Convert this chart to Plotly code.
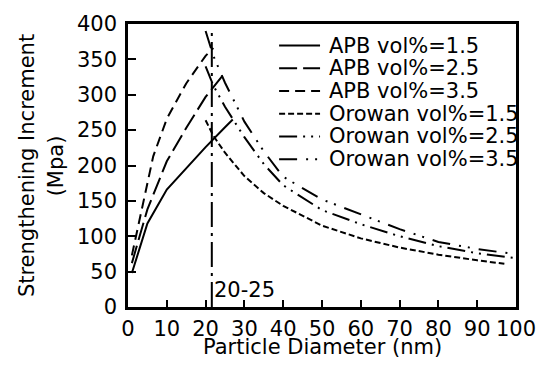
import plotly.graph_objects as go

# ---- data ----
apb15_x = [1, 5, 10, 15, 20, 25, 27]
apb15_y = [48, 118, 166, 196, 226, 254, 265]
apb25_x = [1, 5, 10, 15, 20, 24.5]
apb25_y = [62, 138, 206, 253, 297, 328]
apb35_x = [1, 3, 6.5, 10, 15, 20, 22]
apb35_y = [73, 125, 213, 266, 316, 355, 366]
oro15_x = [20, 22, 25, 30, 35, 40, 50, 60, 70, 80, 90, 97]
oro15_y = [264, 242, 218, 185, 161, 143, 115, 97, 84, 74, 66, 61]
oro25_x = [20, 22, 25, 30, 35, 40, 50, 60, 70, 80, 90, 100]
oro25_y = [340, 313, 283, 240, 202, 172, 137, 117, 100, 86, 76, 69]
oro35_x = [20, 22, 25, 30, 35, 40, 50, 60, 70, 80, 90, 98]
oro35_y = [390, 355, 317, 262, 220, 184, 152, 131, 110, 92, 82, 76]
crit_x = [21.6, 21.6]
crit_y = [0, 391]
crit_label = "20-25"
names = ["APB vol%=1.5", "APB vol%=2.5", "APB vol%=3.5",
         "Orowan vol%=1.5", "Orowan vol%=2.5", "Orowan vol%=3.5"]
x_ticks = list(range(0, 101, 10))
y_ticks = list(range(0, 401, 50))

FONT = "DejaVu Sans, Arial, sans-serif"
FS = 21
dashes = ["solid", "18px,6px", "10px,6px", "6px,3px",
          "18px,6px,2px,6px,2px,6px", "18px,9px,2px,7px,2px,9px"]
series = [(apb15_x, apb15_y), (apb25_x, apb25_y), (apb35_x, apb35_y),
          (oro15_x, oro15_y), (oro25_x, oro25_y), (oro35_x, oro35_y)]

fig = go.Figure()
for (xs, ys), nm, dsh in zip(series, names, dashes):
    fig.add_trace(go.Scatter(x=xs, y=ys, mode="lines", name=nm,
                             line=dict(color="black", width=2, dash=dsh),
                             showlegend=False))
fig.add_trace(go.Scatter(x=crit_x, y=crit_y, mode="lines", showlegend=False,
                         line=dict(color="black", width=2, dash="25px,6px,3px,6px")))

W, H = 548, 367
L, R, T, B = 128, 22, 18, 60
pw, ph = W - L - R, H - T - B

def px2paper_x(px):
    return (px - L) / pw

def px2paper_y(py):
    return (H - B - py) / ph

shapes = []
annotations = []
# manual legend (tight row spacing like the reference)
for i, (nm, dsh) in enumerate(zip(names, dashes)):
    yc = px2paper_y(40 + 23.2 * i)
    shapes.append(dict(type="line", xref="paper", yref="paper",
                       x0=px2paper_x(283), x1=px2paper_x(325), y0=yc, y1=yc,
                       line=dict(color="black", width=2, dash=dsh)))
    annotations.append(dict(xref="paper", yref="paper", x=px2paper_x(332), y=yc,
                            text=nm, showarrow=False, xanchor="left", yanchor="middle",
                            font=dict(family=FONT, size=FS, color="black")))

annotations.append(dict(x=crit_x[0], y=24, xref="x", yref="y", text=crit_label,
                        showarrow=False, xanchor="left", yanchor="middle",
                        font=dict(family=FONT, size=FS, color="black")))
annotations.append(dict(xref="paper", yref="paper", x=px2paper_x(24), y=0.5,
                        text="Strengthening Increment", textangle=-90, showarrow=False,
                        xanchor="center", yanchor="middle",
                        font=dict(family=FONT, size=FS, color="black")))
annotations.append(dict(xref="paper", yref="paper", x=px2paper_x(54), y=0.5,
                        text="(Mpa)", textangle=-90, showarrow=False,
                        xanchor="center", yanchor="middle",
                        font=dict(family=FONT, size=FS, color="black")))
annotations.append(dict(xref="paper", yref="paper", x=px2paper_x(328), y=px2paper_y(348),
                        text="Particle Diameter (nm)", showarrow=False,
                        xanchor="center", yanchor="middle",
                        font=dict(family=FONT, size=FS, color="black")))

fig.update_layout(
    width=W, height=H,
    margin=dict(l=L, r=R, t=T, b=B),
    paper_bgcolor="white", plot_bgcolor="white",
    font=dict(family=FONT, size=FS, color="black"),
    shapes=shapes, annotations=annotations,
    showlegend=False,
)
fig.update_xaxes(range=[0, 100], tickvals=x_ticks, ticktext=[str(v) for v in x_ticks],
                 ticks="inside", ticklen=7, tickwidth=2, tickcolor="black",
                 showline=True, linewidth=2.5, linecolor="black", mirror=True,
                 showgrid=False, zeroline=False, ticklabelstandoff=1,
                 tickfont=dict(family=FONT, size=FS, color="black"))
fig.update_yaxes(range=[0, 400], tickvals=y_ticks, ticktext=[str(v) for v in y_ticks],
                 ticks="inside", ticklen=8, tickwidth=2, tickcolor="black",
                 showline=True, linewidth=2.5, linecolor="black", mirror=True,
                 showgrid=False, zeroline=False, ticklabelstandoff=4,
                 tickfont=dict(family=FONT, size=FS, color="black"))

fig.write_html("out.html")
